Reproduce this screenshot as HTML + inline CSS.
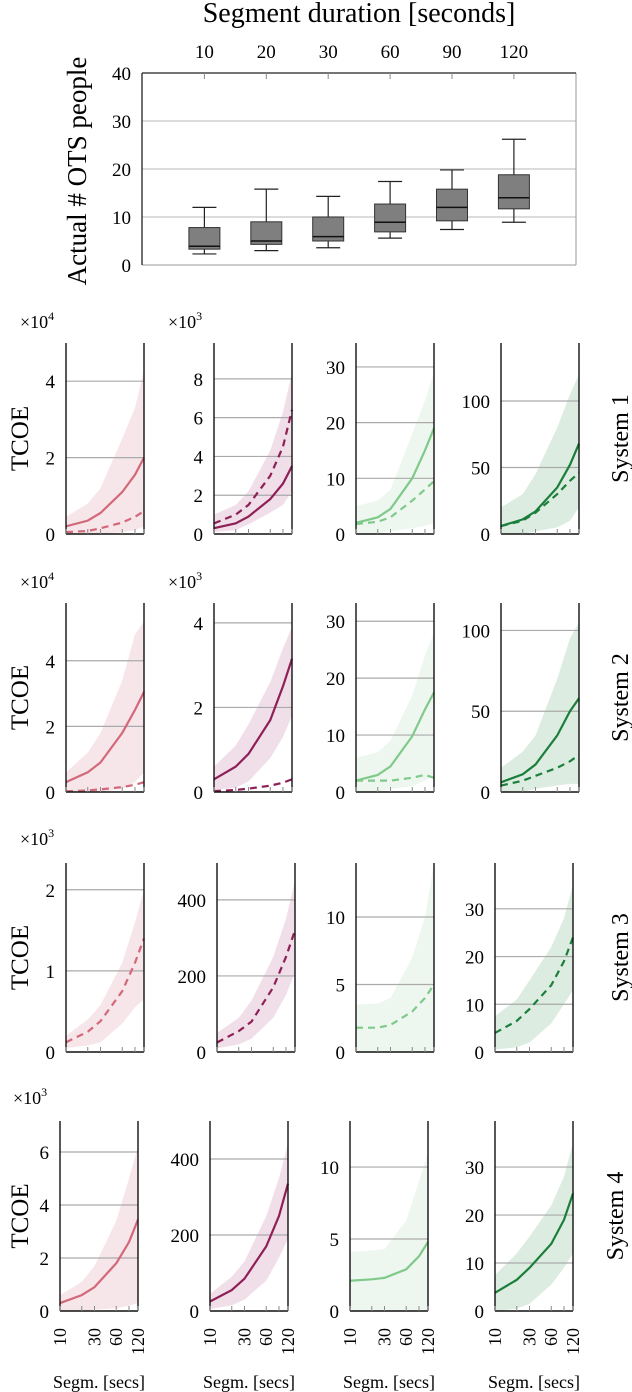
<!DOCTYPE html>
<html><head><meta charset="utf-8">
<style>
html,body{margin:0;padding:0;background:#fff;}
svg{display:block;font-family:"Liberation Serif",serif;}
</style></head>
<body>
<svg id="fig" width="632" height="1392" viewBox="0 0 632 1392" xmlns="http://www.w3.org/2000/svg"></svg>
<script>
// ---------- Boxplot data ----------
const boxCategories = ["10","20","30","60","90","120"];
const boxMin = [2.3, 3.0, 3.6, 5.6, 7.4, 8.9];
const boxQ1  = [3.3, 4.3, 5.0, 6.9, 9.2, 11.7];
const boxMed = [3.9, 5.0, 5.9, 8.9, 12.0, 14.0];
const boxQ3  = [7.8, 9.0, 10.0, 12.7, 15.8, 18.8];
const boxMax = [12.0, 15.8, 14.3, 17.4, 19.8, 26.2];
const boxYTicks = [0, 10, 20, 30, 40];

// ---------- Small panels data ----------
const segX = [10, 20, 30, 60, 90, 120];
const segTickLabels = ["10", "30", "60", "120"];
const systemNames = ["System 1", "System 2", "System 3", "System 4"];

const solidVals = [
 [[0.2,0.35,0.55,1.1,1.55,2.0],[0.3,0.55,0.9,1.8,2.6,3.5],[2,3,4.5,10,15,19],[6,11,17,35,52,68]],
 [[0.3,0.6,0.9,1.8,2.5,3.05],[0.3,0.6,0.9,1.7,2.5,3.15],[2,3,4.5,9.8,14.5,17.5],[6,11,17,35,50,58]],
 [null,null,null,null],
 [[0.3,0.6,0.9,1.8,2.6,3.45],[25,55,85,170,250,335],[2.1,2.2,2.3,2.9,3.8,4.8],[3.8,6.5,9,14,19,24.5]]
];
const dashedVals = [
 [[0.05,0.08,0.15,0.3,0.45,0.6],[0.55,1.0,1.5,3.0,4.5,6.4],[1.8,2.2,3,6,8,9.5],[6,10,16,30,40,46]],
 [[0.02,0.05,0.08,0.15,0.22,0.3],[0.02,0.05,0.08,0.15,0.22,0.3],[2,2,2,2.5,3,2.5],[4,7,10,15,19,23]],
 [[0.12,0.25,0.38,0.75,1.1,1.4],[25,55,80,170,250,320],[1.8,1.8,2,3,4,5],[4,6.5,9,14,19,24]],
 [null,null,null,null]
];
const bandHi = [
 [[0.45,0.8,1.2,2.5,3.3,4.3],[1.0,1.5,2.2,4.3,6.3,8.3],[5,6,8,18,24,29],[20,30,45,80,105,120]],
 [[0.6,1.2,1.8,3.4,4.8,5.2],[0.6,1.1,1.6,2.6,3.4,3.9],[6,7,9,17,24,28],[15,25,35,70,95,105]],
 [[0.2,0.4,0.58,1.1,1.6,2.0],[50,90,135,250,350,450],[3.5,3.6,4,7,10,14],[7.5,11,15,22,28,35]],
 [[0.6,1.1,1.7,3.4,5,6.2],[45,90,130,250,350,440],[4.1,4.2,4.3,6.3,9,11],[7.5,12,15.5,22,28,35]]
];
const bandLo = [
 [[0,0,0,0.05,0.1,0.2],[0.1,0.2,0.5,1.1,1.5,2.2],[0,0,0.5,1,1.5,2],[0,0,2,5,10,20]],
 [[0,0,0,0.1,0.3,0.6],[0.05,0.1,0.25,0.8,1.3,1.8],[0,0,0.5,1,2,3],[0,0,2,4,5,5]],
 [[0.05,0.08,0.12,0.35,0.55,0.65],[10,20,35,90,150,210],[0,0,0,0,0,0],[0.5,1,2,6,10,13]],
 [[0,0,0.05,0.1,0.2,0.3],[5,15,30,80,140,190],[0,0,0,0,0,0],[0,0.5,1.5,5.5,9,12]]
];
const yMaxes = [[5.0,9.85,34.3,143.6],[5.76,4.47,33.2,117],[2.33,497,14.0,39.6],[7.17,500,13.2,39.6]];
const yTicks = [
 [[0,2,4],[0,2,4,6,8],[0,10,20,30],[0,50,100]],
 [[0,2,4],[0,2,4],[0,10,20,30],[0,50,100]],
 [[0,1,2],[0,200,400],[0,5,10],[0,10,20,30]],
 [[0,2,4,6],[0,200,400],[0,5,10],[0,10,20,30]]
];

// layout
const rowTop=[343,603,863,1121], rowBot=[534,792,1052,1311];
const colLeft=[[66,214,356,501],[66,214,356,501],[66,217,356,495],[60,210,350,495]];
const PW=78;
const lineColors=["#d3687a","#8e1f57","#7fc98a","#1b7f3b"];
const bandColors=["#f7e6e9","#f0dee8","#eef7ef","#dcece0"];

const NS="http://www.w3.org/2000/svg";
const svg=document.getElementById('fig');
function mk(tag,attrs,parent){const e=document.createElementNS(NS,tag);for(const k in attrs)e.setAttribute(k,attrs[k]);(parent||svg).appendChild(e);return e;}

// ---------- Boxplot ----------
const bx0=142,bx1=576,by0=73,by1=265;
const byScale=v=>by1-(v/40)*(by1-by0);
const bxPos=i=>204.4+i*61.9;
const bg=mk('g',{});


const t0=mk('text',{x:359,y:22,'font-size':28,'text-anchor':'middle'},bg);
t0.textContent="Segment duration [seconds]";


boxYTicks.forEach(v=>{
  if(v>0&&v<40){const gl=mk('line',{x1:bx0,x2:bx1,y1:byScale(v),y2:byScale(v),stroke:'#c8c8c8','stroke-width':1.2},bg);
  }
  const t=mk('text',{x:131,y:byScale(v)+7,'font-size':19,'text-anchor':'end'},bg);
  t.textContent=v;
  
  
});
mk('line',{x1:bx0,x2:bx1,y1:by1,y2:by1,stroke:'#999','stroke-width':1},bg);
mk('line',{x1:bx1,x2:bx1,y1:by0,y2:by1,stroke:'#999','stroke-width':1},bg);
mk('line',{x1:bx0,x2:bx1,y1:by0,y2:by0,stroke:'#222','stroke-width':1.3},bg);
mk('line',{x1:bx0,x2:bx0,y1:by0,y2:by1,stroke:'#222','stroke-width':1.3},bg);
const yt=mk('text',{transform:'translate(86,171) rotate(-90)','font-size':27,'text-anchor':'middle'},bg);
yt.textContent="Actual # OTS people";


boxCategories.forEach((c,i)=>{
  const x=bxPos(i);
  mk('line',{x1:x,x2:x,y1:by0,y2:by0+6,stroke:'#888'},bg);
  const t=mk('text',{x:x,y:58,'font-size':19,'text-anchor':'middle'},bg);
  t.textContent=c;
  
  
  const g=mk('g',{},bg);
  
  
  const w=31;
  mk('line',{x1:x,x2:x,y1:byScale(boxMax[i]),y2:byScale(boxQ3[i]),stroke:'#222','stroke-width':1.2},g);
  mk('line',{x1:x,x2:x,y1:byScale(boxQ1[i]),y2:byScale(boxMin[i]),stroke:'#222','stroke-width':1.2},g);
  mk('line',{x1:x-12,x2:x+12,y1:byScale(boxMax[i]),y2:byScale(boxMax[i]),stroke:'#222','stroke-width':1.2},g);
  mk('line',{x1:x-12,x2:x+12,y1:byScale(boxMin[i]),y2:byScale(boxMin[i]),stroke:'#222','stroke-width':1.2},g);
  mk('rect',{x:x-w/2,y:byScale(boxQ3[i]),width:w,height:byScale(boxQ1[i])-byScale(boxQ3[i]),fill:'#7f7f7f',stroke:'#333','stroke-width':1},g);
  mk('line',{x1:x-w/2,x2:x+w/2,y1:byScale(boxMed[i]),y2:byScale(boxMed[i]),stroke:'#111','stroke-width':1.5},g);
});

// ---------- Small panels ----------
const lx=v=>Math.log(v/10)/Math.log(12);
for(let r=0;r<4;r++){
  for(let c=0;c<4;c++){
    const L=colLeft[r][c],R=L+PW,T=rowTop[r],B=rowBot[r],ym=yMaxes[r][c];
    const X=v=>L+lx(v)*PW, Y=v=>B-(v/ym)*(B-T);
    const g=mk('g',{});
    
    
    const hi=bandHi[r][c],lo=bandLo[r][c];
    let d='M'+segX.map((x,i)=>X(x)+','+Y(hi[i])).join(' L');
    d+=' L'+segX.slice().reverse().map((x,j)=>{const i=segX.length-1-j;return X(x)+','+Y(lo[i]);}).join(' L')+'Z';
    const band=mk('path',{d:d,fill:bandColors[c],stroke:'none'},g);
    
    
    yTicks[r][c].forEach(v=>{
      if(v>0){const gl=mk('line',{x1:L,x2:R,y1:Y(v),y2:Y(v),stroke:'#aaa','stroke-width':1.2},g);
      }
      const t=mk('text',{x:L-11,y:Y(v)+7,'font-size':19,'text-anchor':'end'},g);
      t.textContent=v;
      
      
    });
    const sv=solidVals[r][c];
    if(sv){const p=mk('polyline',{points:segX.map((x,i)=>X(x)+','+Y(sv[i])).join(' '),fill:'none',stroke:lineColors[c],'stroke-width':2.2},g);
      }
    const dv=dashedVals[r][c];
    if(dv){const p=mk('polyline',{points:segX.map((x,i)=>X(x)+','+Y(dv[i])).join(' '),fill:'none',stroke:lineColors[c],'stroke-width':2.2,'stroke-dasharray':'7,5'},g);
      }
    mk('line',{x1:L,x2:L,y1:T,y2:B,stroke:'#111','stroke-width':1.4},g);
    mk('line',{x1:R,x2:R,y1:T,y2:B,stroke:'#111','stroke-width':1.4},g);
    mk('line',{x1:L,x2:R,y1:B,y2:B,stroke:'#111','stroke-width':1.4},g);
    segX.forEach(x=>mk('line',{x1:X(x),x2:X(x),y1:B,y2:B-5,stroke:'#888','stroke-width':1},g));
    if(r===3){
      segTickLabels.forEach(s=>{
        const xx=X(+s);
        const t=mk('text',{transform:'translate('+(xx+6)+','+(B+17)+') rotate(-90)','font-size':18,'text-anchor':'end'},g);
        t.textContent=s;
        
        
      });
      const xt=mk('text',{x:L+PW/2,y:1388,'font-size':18,'text-anchor':'middle'},g);
      xt.textContent="Segm. [secs]";
      
      
    }
  }
  const tl=mk('text',{transform:'translate(28,'+((rowTop[r]+rowBot[r])/2)+') rotate(-90)','font-size':25,'text-anchor':'middle'});
  tl.textContent="TCOE";
  
  
  const sx = r===3 ? 623 : 628;
  const sl=mk('text',{transform:'translate('+sx+','+((rowTop[r]+rowBot[r])/2)+') rotate(-90)','font-size':24,'text-anchor':'middle'});
  sl.textContent=systemNames[r];
  
  
}
const mults=[[[20,328,"4"],[168,328,"3"]],[[20,588,"4"],[168,588,"3"]],[[20,845,"3"]],[[13,1104,"3"]]];
mults.forEach(row=>row.forEach(m=>{
  const t=mk('text',{x:m[0],y:m[1],'font-size':18});
  t.textContent="×10";
  const s=mk('tspan',{dy:-8,'font-size':12},t);
  s.textContent=m[2];
  
  
}));
</script>
</body></html>
